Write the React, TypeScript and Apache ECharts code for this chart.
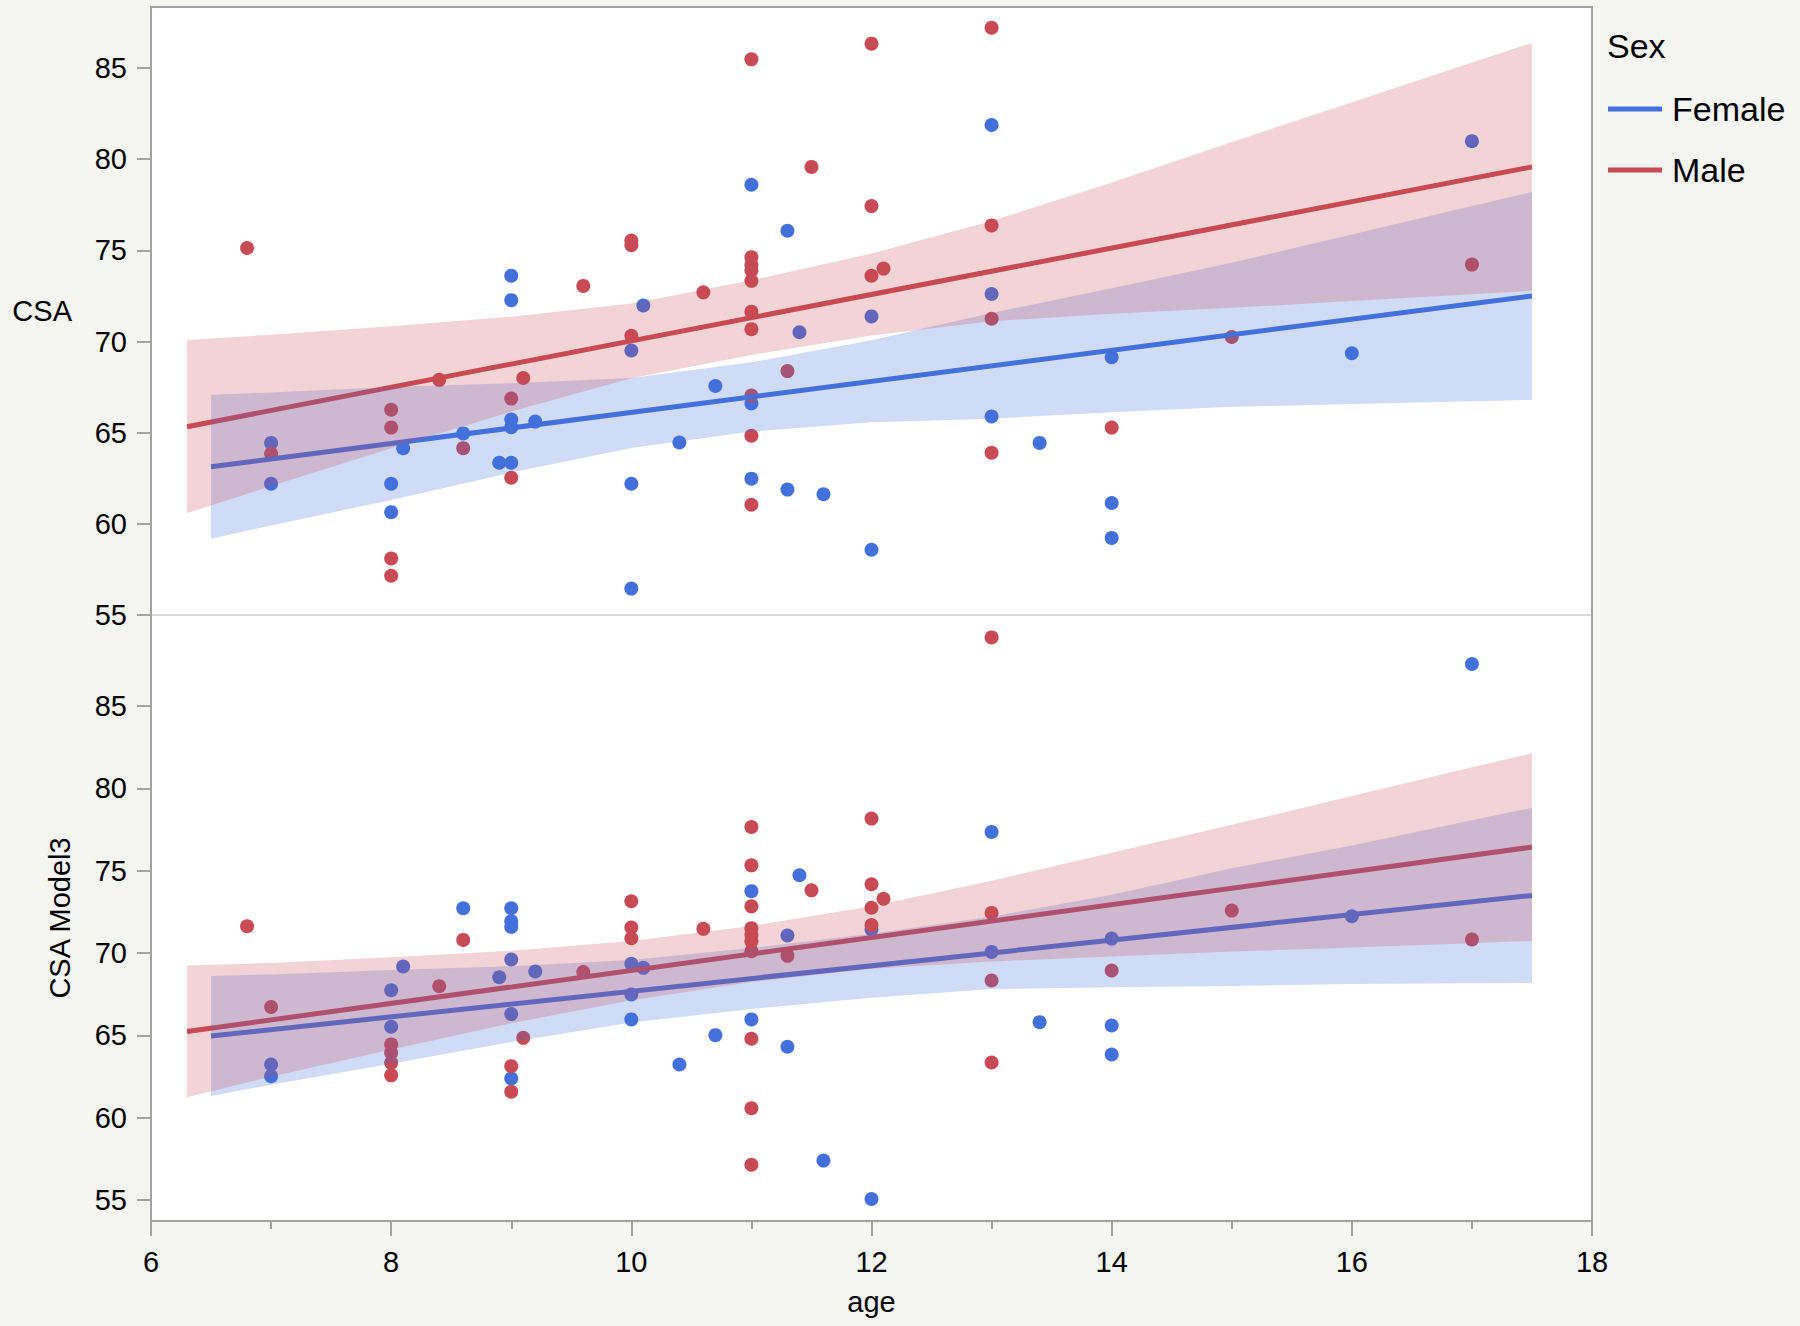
import React, { useEffect, useRef } from 'react';
import * as echarts from 'echarts';

// ---------- data ----------
const Y_TICKS = [55, 60, 65, 70, 75, 80, 85];
const AGE_MIN = 6;
const AGE_MAX = 18;

// CSA (top panel) observations [age, value]
const CSA_FEMALE: number[][] = [
  [7, 64.44], [7, 62.2], [8, 62.2], [8, 60.64], [8.1, 64.15], [8.6, 64.96], [8.9, 63.35],
  [9, 63.35], [9, 73.61], [9, 72.27], [9, 65.72], [9, 65.3], [9.2, 65.61],
  [10, 69.51], [10, 62.2], [10, 56.45], [10.1, 71.98], [10.4, 64.46], [10.7, 67.56],
  [11, 78.6], [11, 66.6], [11, 62.48], [11.3, 76.08], [11.3, 61.88], [11.4, 70.51], [11.6, 61.62],
  [12, 71.38], [12, 58.58], [13, 81.88], [13, 72.61], [13, 65.89], [13.4, 64.44],
  [14, 69.14], [14, 61.14], [14, 59.23], [16, 69.36], [17, 80.99],
];
const CSA_MALE: number[][] = [
  [6.8, 75.13], [7, 63.85], [8, 66.26], [8, 65.28], [8, 58.1], [8, 57.15], [8.4, 67.9], [8.6, 64.15],
  [9, 62.53], [9, 66.87], [9.1, 68.0], [9.6, 73.05], [10, 75.54], [10, 75.28], [10, 70.32], [10.6, 72.7],
  [11, 85.48], [11, 74.63], [11, 74.2], [11, 73.9], [11, 73.33], [11, 71.64], [11, 70.68], [11, 67.04],
  [11, 64.83], [11, 61.05], [11.3, 68.38], [11.5, 79.58], [12, 86.34], [12, 77.43], [12, 73.61],
  [12.1, 74.0], [13, 87.21], [13, 76.37], [13, 71.25], [13, 63.9], [14, 65.28], [15, 70.25], [17, 74.22],
];

// CSA Model3 (bottom panel) observations [age, value]
const M3_FEMALE: number[][] = [
  [7, 63.23], [7, 62.52], [8, 67.74], [8, 65.52], [8.1, 69.18], [8.6, 72.72], [8.9, 68.53],
  [9, 72.72], [9, 71.93], [9, 71.59], [9, 69.61], [9, 66.29], [9, 62.38], [9.2, 68.88],
  [10, 69.35], [10, 67.48], [10, 65.97], [10.1, 69.1], [10.4, 63.23], [10.7, 65.01],
  [11, 73.76], [11, 65.97], [11.3, 71.07], [11.3, 64.31], [11.4, 74.73], [11.6, 57.39],
  [12, 71.43], [12, 55.06], [13, 77.36], [13, 70.07], [13.4, 65.8],
  [14, 70.88], [14, 65.6], [14, 63.84], [16, 72.24], [17, 87.56],
];
const M3_MALE: number[][] = [
  [6.8, 71.63], [7, 66.72], [8, 64.45], [8, 63.94], [8, 63.33], [8, 62.57], [8.4, 67.99], [8.6, 70.8],
  [9, 63.13], [9, 61.57], [9.1, 64.85], [9.6, 68.85], [10, 73.15], [10, 71.55], [10, 70.9], [10.6, 71.47],
  [11, 77.66], [11, 75.33], [11, 72.84], [11, 71.5], [11, 71.1], [11, 70.72], [11, 70.11], [11, 64.79],
  [11, 60.57], [11, 57.14], [11.3, 69.83], [11.5, 73.81], [12, 78.17], [12, 74.18], [12, 72.75],
  [12, 71.7], [12.1, 73.3], [13, 89.18], [13, 72.44], [13, 68.33], [13, 63.35], [14, 68.94],
  [15, 72.58], [17, 70.82],
];

// Fit lines (end points)
const CSA_FIT_FEMALE = [[6.5, 63.13], [17.5, 72.5]];
const CSA_FIT_MALE = [[6.3, 65.33], [17.5, 79.58]];
const M3_FIT_FEMALE = [[6.5, 64.96], [17.5, 73.5]];
const M3_FIT_MALE = [[6.3, 65.24], [17.5, 76.44]];

// Confidence bands (read at these ages)
const BAND_AGE_MALE = [6.3, 7, 8, 9, 10, 11, 12, 13, 14, 15, 16, 17, 17.5];
const BAND_AGE_FEMALE = [6.5, 7, 8, 9, 10, 11, 12, 13, 14, 15, 16, 17, 17.5];

const CSA_BAND_MALE_LO = [60.58, 62.07, 64.14, 66.16, 67.99, 69.26, 70.33, 71.11, 71.53, 71.85, 72.22, 72.6, 72.78];
const CSA_BAND_MALE_HI = [70.08, 70.37, 70.84, 71.36, 72.09, 73.36, 74.83, 76.61, 78.73, 80.95, 83.12, 85.3, 86.38];
const CSA_BAND_FEMALE_LO = [59.18, 59.91, 61.31, 62.81, 64.16, 65.06, 65.57, 65.77, 66.12, 66.42, 66.57, 66.73, 66.8];
const CSA_BAND_FEMALE_HI = [67.08, 67.21, 67.51, 67.71, 68.0, 68.86, 70.07, 71.57, 72.92, 74.32, 75.87, 77.43, 78.2];

const M3_BAND_MALE_LO = [61.24, 62.49, 64.14, 65.74, 67.14, 68.24, 69.04, 69.49, 69.79, 70.09, 70.34, 70.59, 70.74];
const M3_BAND_MALE_HI = [69.24, 69.39, 69.74, 70.14, 70.74, 71.64, 72.84, 74.39, 76.09, 77.79, 79.54, 81.29, 82.14];
const M3_BAND_FEMALE_LO = [61.31, 62.0, 63.27, 64.6, 65.78, 66.6, 67.28, 67.81, 67.92, 68.0, 68.12, 68.17, 68.18];
const M3_BAND_FEMALE_HI = [68.61, 68.7, 68.97, 69.2, 69.58, 70.3, 71.18, 72.21, 73.54, 75.16, 76.54, 78.07, 78.82];

// ---------- styles ----------
const BLUE = '#4470DC';
const RED = '#C84A54';
const BLUE_BAND = 'rgba(68,112,220,0.25)';
const RED_BAND = 'rgba(200,74,84,0.24)';
const AXIS_GRAY = '#a3a3a3';
const FONT = '"Liberation Sans", Arial, Helvetica, sans-serif';

function bandSeries(name: string, grid: number, ages: number[], lo: number[], hi: number[], color: string, z: number) {
  return {
    type: 'custom',
    name,
    xAxisIndex: grid,
    yAxisIndex: grid,
    z,
    silent: true,
    clip: true,
    data: ages.map((a, i) => [a, lo[i], hi[i]]),
    encode: { x: 0, y: [1, 2] },
    renderItem: (params: any, api: any) => {
      if (params.dataIndex !== 0) return null;
      const pts: number[][] = [];
      for (let i = 0; i < ages.length; i++) pts.push(api.coord([ages[i], hi[i]]));
      for (let i = ages.length - 1; i >= 0; i--) pts.push(api.coord([ages[i], lo[i]]));
      return { type: 'polygon', shape: { points: pts }, style: { fill: color, stroke: 'none' } };
    },
  };
}

function scatterSeries(name: string, grid: number, data: number[][], color: string) {
  return {
    type: 'scatter', name, xAxisIndex: grid, yAxisIndex: grid, z: 2, silent: true,
    symbolSize: 14, itemStyle: { color, opacity: 1 }, data,
  };
}

function lineSeries(name: string, grid: number, data: number[][], color: string) {
  return {
    type: 'line', name, xAxisIndex: grid, yAxisIndex: grid, z: 3, silent: true,
    showSymbol: false, symbol: 'none', lineStyle: { color, width: 5 }, itemStyle: { color }, data,
  };
}

function yAxisCfg(gridIndex: number, min: number, max: number, name: string, rotate: number, gap: number) {
  return {
    type: 'value', gridIndex, min, max, name, nameLocation: 'middle', nameRotate: rotate, nameGap: gap,
    nameTextStyle: { fontSize: 29, color: '#000', fontFamily: FONT },
    axisLine: { show: true, lineStyle: { color: AXIS_GRAY, width: 2 } },
    axisTick: { show: true, customValues: Y_TICKS, length: 14, lineStyle: { color: AXIS_GRAY, width: 2 } },
    axisLabel: { customValues: Y_TICKS, fontSize: 29, color: '#000', margin: 24, fontFamily: FONT },
    splitLine: { show: false },
  };
}

export default function App() {
  const ref = useRef<HTMLDivElement>(null);
  useEffect(() => {
    if (!ref.current) return;
    const chart = echarts.init(ref.current, null, { renderer: 'svg' });
    const option: any = {
      animation: false,
      backgroundColor: '#f5f5f1',
      title: {
        text: 'Sex', left: 1602, top: 24,
        textStyle: { fontSize: 34, fontWeight: 'normal', color: '#000', fontFamily: FONT },
      },
      legend: {
        orient: 'vertical', left: 1603, top: 87, itemWidth: 54, itemHeight: 5, itemGap: 27,
        icon: 'rect', selectedMode: false,
        textStyle: { fontSize: 34, color: '#000', fontFamily: FONT, padding: [0, 0, 0, 5] },
        data: [
          { name: 'Female', itemStyle: { color: BLUE } },
          { name: 'Male', itemStyle: { color: RED } },
        ],
      },
      grid: [
        { left: 151, top: 7, width: 1441, height: 608, show: true, backgroundColor: '#ffffff', borderWidth: 0 },
        { left: 151, top: 615, width: 1441, height: 606, show: true, backgroundColor: '#ffffff', borderWidth: 0 },
      ],
      xAxis: [
        {
          type: 'value', gridIndex: 0, min: AGE_MIN, max: AGE_MAX, interval: 2,
          axisLine: { show: true, lineStyle: { color: '#d9d9d9', width: 2 } },
          axisTick: { show: false }, axisLabel: { show: false }, splitLine: { show: false },
        },
        {
          type: 'value', gridIndex: 1, min: AGE_MIN, max: AGE_MAX, interval: 2,
          name: 'age', nameLocation: 'middle', nameGap: 66,
          nameTextStyle: { fontSize: 29, color: '#000', fontFamily: FONT },
          axisLine: { show: true, lineStyle: { color: AXIS_GRAY, width: 2 } },
          axisTick: { show: true, length: 15, lineStyle: { color: AXIS_GRAY, width: 2 } },
          minorTick: { show: true, splitNumber: 2, length: 8, lineStyle: { color: AXIS_GRAY, width: 2 } },
          axisLabel: { fontSize: 29, color: '#000', margin: 26, fontFamily: FONT },
          splitLine: { show: false }, minorSplitLine: { show: false },
        },
      ],
      yAxis: [
        yAxisCfg(0, 55, 88.35, 'CSA', 0, 79),
        yAxisCfg(1, 53.72, 90.54, 'CSA Model3', 90, 77),
      ],
      graphic: [
        {
          type: 'rect', z: 100, silent: true,
          shape: { x: 151, y: 7, width: 1441, height: 1214 },
          style: { fill: 'none', stroke: AXIS_GRAY, lineWidth: 2 },
        },
      ],
      series: [
        scatterSeries('Female', 0, CSA_FEMALE, BLUE),
        scatterSeries('Male', 0, CSA_MALE, RED),
        lineSeries('Female', 0, CSA_FIT_FEMALE, BLUE),
        lineSeries('Male', 0, CSA_FIT_MALE, RED),
        bandSeries('Female', 0, BAND_AGE_FEMALE, CSA_BAND_FEMALE_LO, CSA_BAND_FEMALE_HI, BLUE_BAND, 4),
        bandSeries('Male', 0, BAND_AGE_MALE, CSA_BAND_MALE_LO, CSA_BAND_MALE_HI, RED_BAND, 5),
        scatterSeries('Female', 1, M3_FEMALE, BLUE),
        scatterSeries('Male', 1, M3_MALE, RED),
        lineSeries('Female', 1, M3_FIT_FEMALE, BLUE),
        lineSeries('Male', 1, M3_FIT_MALE, RED),
        bandSeries('Female', 1, BAND_AGE_FEMALE, M3_BAND_FEMALE_LO, M3_BAND_FEMALE_HI, BLUE_BAND, 4),
        bandSeries('Male', 1, BAND_AGE_MALE, M3_BAND_MALE_LO, M3_BAND_MALE_HI, RED_BAND, 5),
      ],
    };
    chart.setOption(option);
    return () => chart.dispose();
  }, []);
  return <div ref={ref} style={{ position: 'absolute', left: 0, top: 0, width: 1800, height: 1326 }} />;
}
